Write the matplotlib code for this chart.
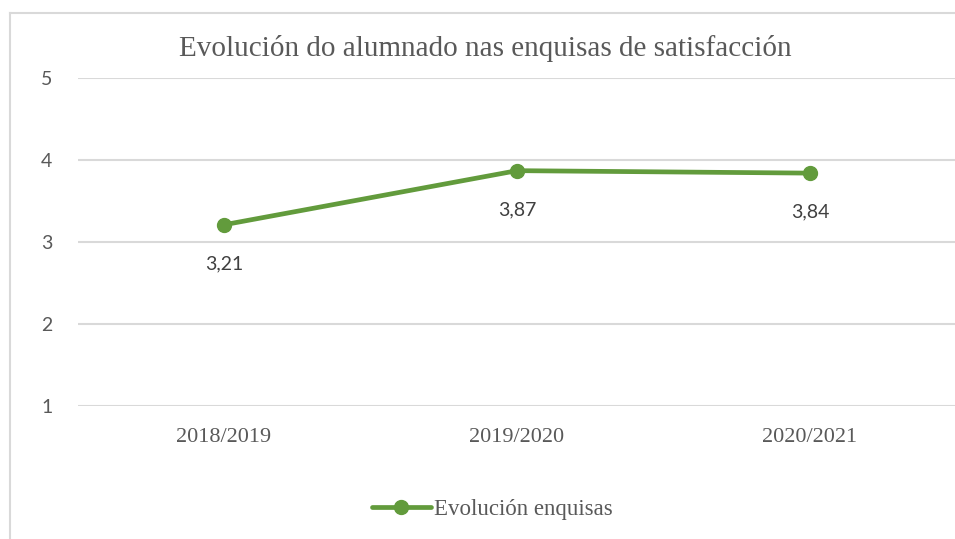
import matplotlib.pyplot as plt
from matplotlib.lines import Line2D

# data
categories = ["2018/2019", "2019/2020", "2020/2021"]
values = [3.21, 3.87, 3.84]
series_name = "Evolución enquisas"
title = "Evolución do alumnado nas enquisas de satisfacción"

green = "#629B3C"
grey_text = "#595959"
grid_grey = "#D9D9D9"
sans = ["Lato", "DejaVu Sans"]
serif = ["Liberation Serif", "DejaVu Serif"]

fig = plt.figure(figsize=(9.55, 5.39), dpi=100)
W, H = 955, 539

# chart border (only top and left visible in the crop)
fig.add_artist(Line2D([10 / W, 10 / W], [0, 1 - 13 / H], color=grid_grey,
                      linewidth=1.5, transform=fig.transFigure))
fig.add_artist(Line2D([10 / W, 1], [1 - 13 / H, 1 - 13 / H], color=grid_grey,
                      linewidth=1.5, transform=fig.transFigure))

ax = fig.add_axes([77.5 / W, 1 - 406 / H, 879 / W, 328 / H])
x = list(range(len(categories)))
ax.plot(x, values, color=green, linewidth=3.4, marker="o", markersize=10,
        solid_capstyle="round", zorder=3, clip_on=False)

for xi, v in zip(x, values):
    ax.annotate(f"{v:.2f}".replace(".", ","), (xi, v), xytext=(0, -28),
                textcoords="offset points", ha="center", va="center",
                fontsize=14, color="#404040", family=sans)

ax.set_xlim(-0.5, 2.5)
ax.set_ylim(1, 5)
ax.set_yticks([1, 2, 3, 4, 5])
ax.set_xticks(x)
ax.set_xticklabels(categories, family=serif, fontsize=16, color=grey_text)
for lbl in ax.get_yticklabels():
    lbl.set_family(sans)
    lbl.set_fontsize(14)
    lbl.set_color(grey_text)
ax.tick_params(axis="both", length=0)
ax.tick_params(axis="y", pad=18)
ax.tick_params(axis="x", pad=16)
ax.grid(axis="y", color=grid_grey, linewidth=1.5)
ax.set_axisbelow(True)
for s in ax.spines.values():
    s.set_visible(False)

fig.text(485 / W, 1 - 49 / H, title, ha="center", va="center",
         family=serif, fontsize=21, color=grey_text)

handle = Line2D([], [], color=green, linewidth=3.4, marker="o", markersize=10,
                solid_capstyle="round")
fig.legend([handle], [series_name], loc="center", bbox_to_anchor=(492 / W, 1 - 509 / H),
           frameon=False, prop={"family": serif, "size": 16.5},
           labelcolor=grey_text, handlelength=2.6, handletextpad=0.1)

fig.savefig("out.png", dpi=100)
